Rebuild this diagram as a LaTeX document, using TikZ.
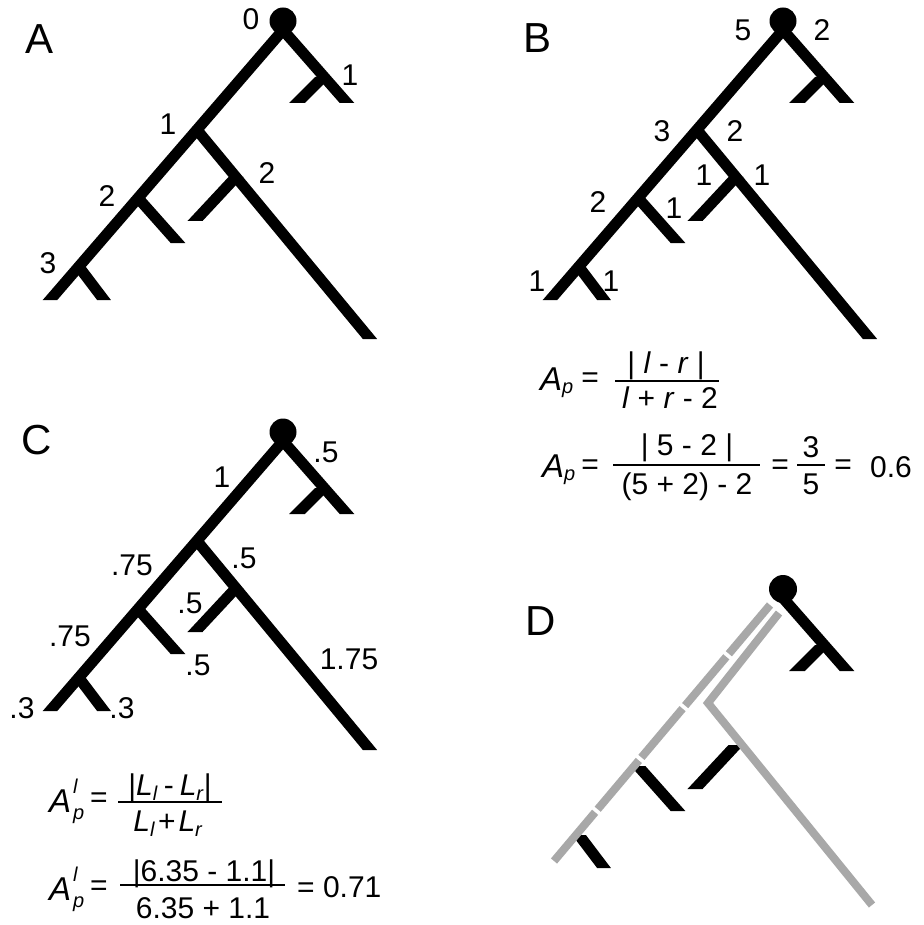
\documentclass[tikz,border=0pt]{standalone}
\usepackage{fontspec}
\setmainfont{Liberation Sans}
\usetikzlibrary{calc}
\definecolor{grayc}{RGB}{168,168,168}
\tikzset{
  lab/.style={inner sep=0pt, font={\fontsize{30}{35}\selectfont}},
  panel/.style={inner sep=0pt, font={\fontsize{42}{50}\selectfont}},
  fml/.style={inner sep=0pt, font={\fontsize{30}{36}\selectfont}},
  bigA/.style={inner sep=0pt, anchor=base west, font={\fontsize{33}{40}\selectfont}},
  fbar/.style={line width=1.8pt},
  grayline/.style={line width=8pt, draw=grayc, line cap=butt, line join=miter}
}
% branch with horizontal cut ends
\newcommand\br[3][black]{\fill[#1] let \p1=($(#3)-(#2)$), \n1={5.5*veclen(\x1,\y1)/abs(\y1)} in
  ($(#2)+(-\n1,0)$) -- ($(#2)+(\n1,0)$) -- ($(#3)+(\n1,0)$) -- ($(#3)+(-\n1,0)$) -- cycle;}
\newcommand\treept[3]{%
  \coordinate (#1dot)  at (283+#2,21+#3);
  \coordinate (#1r)    at (283+#2,30+#3);
  \coordinate (#1a)    at (323+#2,77+#3);
  \coordinate (#1al)   at (297+#2,103+#3);
  \coordinate (#1ar)   at (347+#2,103+#3);
  \coordinate (#1n1)   at (197+#2,130+#3);
  \coordinate (#1n2)   at (236+#2,177+#3);
  \coordinate (#1n2t)  at (195+#2,221+#3);
  \coordinate (#1long) at (370+#2,339+#3);
  \coordinate (#1n3)   at (138+#2,198+#3);
  \coordinate (#1n3t)  at (178+#2,243+#3);
  \coordinate (#1n4)   at (79+#2,267+#3);
  \coordinate (#1n4t)  at (104+#2,300+#3);
  \coordinate (#1tip)  at (50+#2,300+#3);
}
\newcommand\fulltree[1]{%
  \br{#1r}{#1tip}\br{#1n1}{#1long}\br{#1r}{#1ar}\br{#1a}{#1al}%
  \br{#1n2}{#1n2t}\br{#1n3}{#1n3t}\br{#1n4}{#1n4t}%
  \fill (#1dot) circle[radius=13.5pt];}
\newcommand\subx[1]{\raisebox{-3pt}{\fontsize{20}{20}\selectfont\textit{#1}}}
\newcommand\subL[1]{\raisebox{-5pt}{\fontsize{20}{20}\selectfont\textit{#1}}}
\newcommand\supsub[2]{\kern2pt\makebox[0pt][l]{\raisebox{19pt}{\fontsize{20}{20}\selectfont\textit{#1}}}\raisebox{-7pt}{\fontsize{20}{20}\selectfont\textit{#2}}}
\begin{document}
\begin{tikzpicture}[x=1pt,y=-1pt]
\useasboundingbox (0,0) rectangle (923,925);
\fill[white] (0,0) rectangle (923,925);

% ---------- trees A, B, C ----------
\treept{A}{0}{0}
\treept{B}{500}{0}
\treept{C}{0}{411}
\treept{D}{500}{568}
\fulltree{A}
\fulltree{B}
\fulltree{C}

% ---------- tree D ----------
\br{Dr}{Dar}\br{Da}{Dal}\br{Dn2}{Dn2t}\br{Dn3}{Dn3t}\br{Dn4}{Dn4t}
\fill (Ddot) circle[radius=14pt];
\coordinate (gl0) at (770,605);
\coordinate (gl1) at (554,861);
\coordinate (gr0) at (779,613);
\coordinate (gr1) at (708,703);
\coordinate (gr2) at (872,905);
\draw[grayline, dash pattern=on 63.8pt off 4pt] (gl0) -- (gl1);
\draw[grayline] (gr0) -- (gr1) -- (gr2);

% ---------- panel letters ----------
\node[panel] (pA) at (40,39) {A};
\node[panel] (pB) at (537,38) {B};
\node[panel] (pC) at (37,440) {C};
\node[panel] (pD) at (541,621) {D};

% ---------- labels A ----------
\node[lab] (a0) at (251,19) {0};
\node[lab] (a1r) at (350,75) {1};
\node[lab] (a1) at (168,124) {1};
\node[lab] (a2r) at (267,173) {2};
\node[lab] (a2) at (107,196) {2};
\node[lab] (a3) at (48,263) {3};

% ---------- labels B ----------
\node[lab] (b5) at (743,30) {5};
\node[lab] (b2r) at (822,30) {2};
\node[lab] (b3) at (662,131) {3};
\node[lab] (b2m) at (735,131) {2};
\node[lab] (b1a) at (704,175) {1};
\node[lab] (b1b) at (762,175) {1};
\node[lab] (b2l) at (598,202) {2};
\node[lab] (b1c) at (674,208) {1};
\node[lab] (b1d) at (537,281) {1};
\node[lab] (b1e) at (611,281) {1};

% ---------- labels C ----------
\node[lab] (c1) at (222,477) {1};
\node[lab] (c5a) at (326,452) {.5};
\node[lab] (c75a) at (132,565) {.75};
\node[lab] (c5b) at (244,558) {.5};
\node[lab] (c5c) at (190,603) {.5};
\node[lab] (c75b) at (70,636) {.75};
\node[lab] (c5d) at (198,665) {.5};
\node[lab] (c175) at (349,659) {1.75};
\node[lab] (c3a) at (22,708) {.3};
\node[lab] (c3b) at (122,708) {.3};

% ---------- formulas B ----------
\node[bigA] (bA1) at (540,390) {\textit{A}\subx{p}};
\node[fml] (beq1) at (590,380) {=};
\node[fml, anchor=base] (bnum1) at (666,373) {| \textit{l} - \textit{r} |};
\coordinate (bb1a) at (615,381);
\coordinate (bb1b) at (719,381);
\draw[fbar] (bb1a) -- (bb1b);
\node[fml, anchor=base] (bden1) at (670,408) {\textit{l} + \textit{r} - 2};

\node[bigA] (bA2) at (542,477) {\textit{A}\subx{p}};
\node[fml] (beq2) at (590,467) {=};
\node[fml, anchor=base] (bnum2) at (687,455) {| 5 - 2 |};
\coordinate (bb2a) at (613,465);
\coordinate (bb2b) at (760,465);
\draw[fbar] (bb2a) -- (bb2b);
\node[fml, anchor=base] (bden2) at (687,494) {(5 + 2) - 2};
\node[fml] (beq3) at (780,467) {=};
\node[fml, anchor=base] (bn3) at (811,457) {3};
\coordinate (bb3a) at (797,465);
\coordinate (bb3b) at (825,465);
\draw[fbar] (bb3a) -- (bb3b);
\node[fml, anchor=base] (bd5) at (811,494) {5};
\node[fml] (beq4) at (843,467) {=};
\node[fml, anchor=base west] (bres) at (870,477) {0.6};

% ---------- formulas C ----------
\node[bigA] (cA1) at (49,812) {\textit{A}\supsub{l}{p}};
\node[fml] (ceq1) at (99,800) {=};
\node[fml, anchor=base] (cnum1) at (170,795) {|\textit{L}\subL{l}\hspace{0.2em}-\hspace{0.2em}\textit{L}\subL{r}|};
\coordinate (cb1a) at (118,802);
\coordinate (cb1b) at (222,802);
\draw[fbar] (cb1a) -- (cb1b);
\node[fml, anchor=base] (cden1) at (168,831) {\textit{L}\subL{l}\hspace{0.1em}+\hspace{0.1em}\textit{L}\subL{r}};

\node[bigA] (cA2) at (49,900) {\textit{A}\supsub{l}{p}};
\node[fml] (ceq2) at (99,888) {=};
\node[fml, anchor=base] (cnum2) at (204,881) {|6.35 - 1.1|};
\coordinate (cb2a) at (120,885);
\coordinate (cb2b) at (285,885);
\draw[fbar] (cb2a) -- (cb2b);
\node[fml, anchor=base] (cden2) at (203,918) {6.35 + 1.1};
\node[fml, anchor=base west] (cres) at (297,897) {= 0.71};
\end{tikzpicture}
\end{document}
